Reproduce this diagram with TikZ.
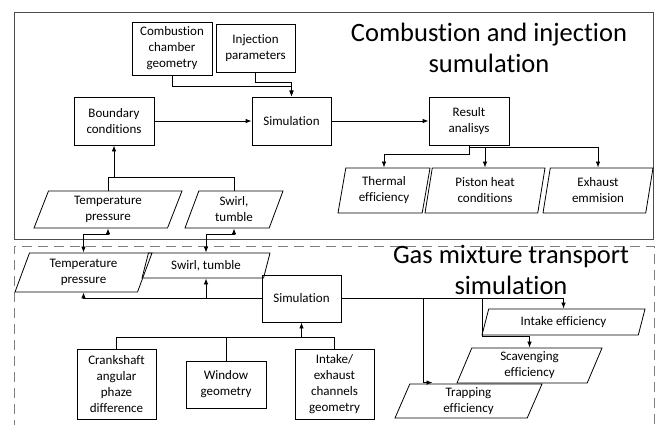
\documentclass[tikz,border=0pt]{standalone}
\usepackage{fontspec}
\setmainfont{Carlito}[RawFeature={-liga;-clig;-dlig;-calt}]
\usetikzlibrary{shapes.geometric,arrows.meta}

\begin{document}
\begin{tikzpicture}[x=1pt,y=-1pt,line width=0.8pt,
    >={Latex[length=6pt,width=4.5pt]},
    procbox/.style={draw,rectangle,align=center,inner sep=2pt,
      font=\fontsize{13}{16}\selectfont},
    databox/.style={draw,trapezium,trapezium left angle=63,
      trapezium right angle=117,trapezium stretches body,
      align=center,inner sep=1pt,font=\fontsize{13}{16}\selectfont},
    steepdata/.style={databox,trapezium left angle=75,trapezium right angle=105},
    ttl/.style={align=center,inner sep=0pt,font=\fontsize{26.5}{31}\selectfont}]
  \useasboundingbox (0,0) rectangle (658,425);

  % frames of the two stages
  \draw[gray!60!black] (14,12) rectangle (653,239);
  \draw[gray,dash pattern=on 10pt off 6pt] (14,430) -- (14,246) -- (654,246) -- (654,430);

  % combustion and injection stage
  \node[ttl] (ttlA) at (489,48) {Combustion and injection\\sumulation};
  \node[procbox,minimum width=80pt,minimum height=53pt] (comb) at (172,48.5) {Combustion\\chamber\\geometry};
  \node[procbox,minimum width=79pt,minimum height=48pt] (inj) at (255.5,48) {Injection\\parameters};
  \node[procbox,minimum width=80pt,minimum height=48pt] (bound) at (114,121) {Boundary\\conditions};
  \node[procbox,minimum width=79pt,minimum height=48pt] (simA) at (291.5,121) {Simulation};
  \node[procbox,minimum width=80pt,minimum height=48pt] (result) at (469,121) {Result\\analisys};

  \node[databox,minimum width=148pt,minimum height=37pt] (tpA) at (108,209.5) {Temperature\\pressure};
  \node[databox,minimum width=98pt,minimum height=37pt] (swA) at (234,209.5) {Swirl,\\tumble};
  \node[steepdata,minimum width=92pt,minimum height=45pt] (thermal) at (384,190.5) {Thermal\\efficiency};
  \node[steepdata,minimum width=120pt,minimum height=45pt] (piston) at (485,190.5) {Piston heat\\conditions};
  \node[steepdata,minimum width=110pt,minimum height=45pt] (exhaust) at (598,190.5) {Exhaust\\emmision};

  \draw[->] (comb.south) |- ([yshift=10pt]simA.north) -- (simA.north);
  \draw[->] (inj.south) |- ([yshift=14pt]simA.north) -- (simA.north);
  \draw[->] (bound.east) -- (simA.west);
  \draw[->] (simA.east) -- (result.west);

  \draw (tpA.north) -- ++(0,-13) -| (swA.north);
  \coordinate (tj) at (114,178);
  \draw[->] (tj) -- (bound.south);

  \coordinate (rj) at (469,147);
  \draw[->] (result.south) -- ++(0,9) -| (thermal.north);
  \draw[->] (rj) -| (exhaust.north);
  \draw[->] (rj -| piston.north) -- (piston.north);

  % gas mixture transport stage
  \node[ttl] (ttlB) at (511,269.5) {Gas mixture transport\\simulation};
  \node[databox,minimum width=137pt,minimum height=39pt] (tpB) at (83.5,272.5) {Temperature\\pressure};
  \node[databox,minimum width=128pt,minimum height=25pt] (swB) at (206,265.5) {Swirl, tumble};
  \node[procbox,minimum width=79pt,minimum height=47pt] (simB) at (301.5,298.5) {Simulation};
  \node[databox,minimum width=163pt,minimum height=26pt] (intake) at (563.5,322) {Intake efficiency};
  \node[databox,minimum width=145pt,minimum height=35pt] (scav) at (529.5,365.5) {Scavenging\\efficiency};
  \node[databox,minimum width=147pt,minimum height=34pt] (trap) at (468.5,401) {Trapping\\efficiency};
  \node[procbox,minimum width=79pt,minimum height=70pt] (crank) at (116.5,384) {Crankshaft\\angular\\phaze\\difference};
  \node[procbox,minimum width=80pt,minimum height=47pt] (window) at (226,384.5) {Window\\geometry};
  \node[procbox,minimum width=79pt,minimum height=70pt] (chan) at (334.5,384) {Intake/\\exhaust\\channels\\geometry};

  % exchange between the stages
  \draw[<->] (tpA.south) -- ++(0,6) -| (tpB.north);
  \draw[<->] (swA.south) -- ++(0,6) -| (swB.north);

  \draw[->] (simB.west) -| (tpB.south);
  \draw[->] (simB.west -| swB.south) -- (swB.south);

  \coordinate (bj) at (301.5,337);
  \draw[->] (crank.north) |- (bj) -- (simB.south);
  \draw (window.north) |- (bj);
  \draw (chan.north) |- (bj);

  \draw[->] (simB.east) -| (intake.north);
  \coordinate (b1) at (482,298.5);
  \draw[->] (b1) |- ([yshift=11pt]scav.north) -- (scav.north);
  \coordinate (b2) at (423,298.5);
  \draw[->] (b2) |- ([xshift=-36pt,yshift=1pt]trap.north);
\end{tikzpicture}
\end{document}
